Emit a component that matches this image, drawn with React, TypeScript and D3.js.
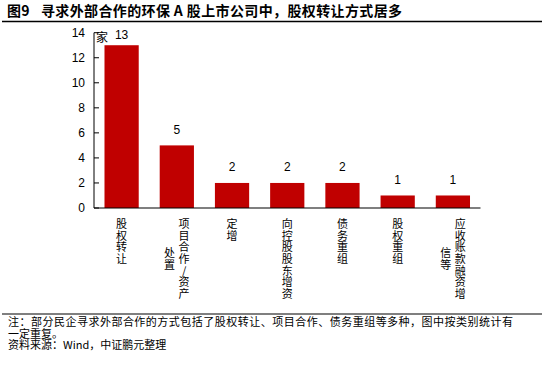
import React from "react";
import * as d3 from "d3";

const categories: string[] = [
  "股权转让",
  "项目合作/资产\n处置",
  "定增",
  "向控股股东增资",
  "债务重组",
  "股权重组",
  "应收账款融资增\n信等",
];
const values: number[] = [13, 5, 2, 2, 2, 1, 1];
const yTicks: number[] = [0, 2, 4, 6, 8, 10, 12, 14];
const titleText = "图9\u2002 寻求外部合作的环保 A 股上市公司中，股权转让方式居多";
const unitLabel = "家";
const noteLines: string[] = [
  "注：部分民企寻求外部合作的方式包括了股权转让、项目合作、债务重组等多种，图中按类别统计有",
  "一定重复。",
  "资料来源：Wind，中证鹏元整理",
];

const W = 544;
const H = 366;
const CJK = "'Noto Sans CJK SC', 'Liberation Serif', serif";
const NUM = "'Liberation Sans', Arial, sans-serif";
const RED = "#C00000";

export default function App() {
  const plot = { left: 94, right: 480.5, top: 32.7, bottom: 208 };
  const x = d3
    .scaleBand<string>()
    .domain(categories)
    .range([plot.left, plot.right])
    .paddingInner(0.38)
    .paddingOuter(0.19);
  const y = d3.scaleLinear().domain([0, 14]).range([plot.bottom, plot.top]);

  const charStep = 11.7;
  const colGap = 14.5;
  const labelTop = 217;

  return (
    <svg
      width={W}
      height={H}
      viewBox={`0 0 ${W} ${H}`}
      style={{ position: "absolute", left: 0, top: 0, background: "#fff" }}
    >
      <rect x={0} y={0} width={W} height={H} fill="#fff" />
      {/* title */}
      <text
        x={7}
        y={15.5}
        fontFamily={CJK}
        fontWeight="bold"
        fontSize={14}
        fill="#000"
        textLength={395}
        lengthAdjust="spacing"
      >
        {titleText}
      </text>
      <line x1={2} x2={542} y1={21.5} y2={21.5} stroke="#000" strokeWidth={1.5} />

      {/* y axis */}
      <line x1={plot.left} x2={plot.left} y1={plot.top} y2={plot.bottom} stroke="#000" strokeWidth={1} />
      {yTicks.map((t) => (
        <g key={t}>
          <line x1={plot.left} x2={plot.left + 5} y1={y(t)} y2={y(t)} stroke="#000" strokeWidth={1} />
          <text
            x={85}
            y={y(t)}
            textAnchor="end"
            dominantBaseline="central"
            fontFamily={NUM}
            fontSize={12}
            fill="#000"
          >
            {t}
          </text>
        </g>
      ))}
      <text x={96} y={36} dominantBaseline="central" fontFamily={CJK} fontSize={12} fill="#000">
        {unitLabel}
      </text>

      {/* bars */}
      {categories.map((c, i) => {
        const v = values[i];
        const bx = x(c)!;
        const top = y(v);
        const ly = Math.max(top - 11.5, plot.top + 6.3);
        return (
          <g key={c}>
            <rect x={bx} y={top} width={x.bandwidth()} height={plot.bottom - top} fill={RED} />
            <text
              x={bx + x.bandwidth() / 2}
              y={ly}
              textAnchor="middle"
              fontFamily={NUM}
              fontSize={12}
              fill="#000"
            >
              {v}
            </text>
          </g>
        );
      })}

      {/* x axis */}
      <line x1={plot.left} x2={plot.right} y1={plot.bottom} y2={plot.bottom} stroke="#000" strokeWidth={1.2} />

      {/* vertical category labels */}
      {categories.map((c) => {
        const cols = c.split("\n");
        const cx = x(c)! + x.bandwidth() / 2;
        const n = cols.length;
        const firstLen = Array.from(cols[0]).length;
        const centerY = labelTop + (firstLen * charStep) / 2;
        return (
          <g key={"l" + c}>
            {cols.map((col, j) => {
              const colX = cx + ((n - 1) / 2 - j) * colGap;
              const chars = Array.from(col);
              const start = centerY - (chars.length * charStep) / 2;
              return chars.map((ch, k) => (
                <text
                  key={j + "-" + k}
                  x={colX}
                  y={start + (k + 0.5) * charStep}
                  textAnchor="middle"
                  dominantBaseline="central"
                  fontFamily={CJK}
                  fontSize={11}
                  fill="#000"
                >
                  {ch}
                </text>
              ));
            })}
          </g>
        );
      })}

      {/* bottom notes */}
      <line x1={2} x2={542} y1={314} y2={314} stroke="#000" strokeWidth={1.2} />
      {noteLines.map((ln, i) => (
        <text
          key={i}
          x={8}
          y={326 + i * 11.5}
          fontFamily={CJK}
          fontSize={11}
          fill="#000"
          textLength={i === 0 ? 505 : undefined}
          lengthAdjust="spacing"
        >
          {ln}
        </text>
      ))}
    </svg>
  );
}
